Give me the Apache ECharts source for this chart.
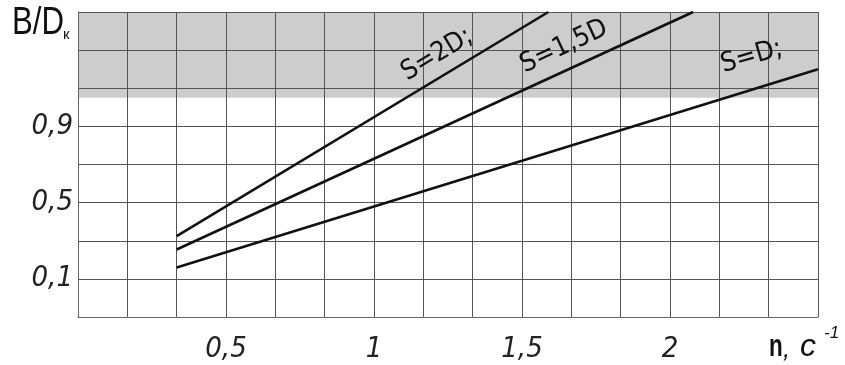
<!DOCTYPE html>
<html><head><meta charset="utf-8">
<script src="https://cdn.jsdelivr.net/npm/echarts@6/dist/echarts.min.js"></script>
<style>html,body{margin:0;padding:0;background:#fff}#c{width:845px;height:365px}</style>
</head><body><div id="c"></div>
<script>
// ---- data ----
const seriesNames = ['S=2D;', 'S=1,5D', 'S=D;'];
const nS2D  = [0.3333, 1.589];
const vS2D  = [0.324, 1.5];
const nS15D = [0.3333, 2.078];
const vS15D = [0.254, 1.5];
const nSD   = [0.3333, 2.5];
const vSD   = [0.160, 1.200];
const xTickValues = [0.5, 1, 1.5, 2];
const xTickLabels = ['0,5', '1', '1,5', '2'];
const yMin = -0.1, yMax = 1.5, yStep = 0.2;       // grid rows of 0.2, starting at -0.1
const yTickValues = [0.1, 0.5, 0.9];
const yTickLabels = ['0,1', '0,5', '0,9'];
const shadedBand = [1.05, 1.5];
const labelAnchorN = [1.213, 1.642, 2.276];
const labelAnchorV = [1.276, 1.318, 1.265];
const labelAngles = [31, 25, 16];

const numFont = '"Liberation Sans Narrow", "DejaVu Sans Condensed", sans-serif';

function pairs(xs, ys) { return xs.map((x, i) => [x, ys[i]]); }
function pick(vals, labels, v) {
  for (let i = 0; i < vals.length; i++) if (Math.abs(vals[i] - v) < 1e-6) return labels[i];
  return '';
}
const rows = Math.round((yMax - yMin) / yStep);

const chart = echarts.init(document.getElementById('c'), null, {renderer: 'canvas'});
const lineStyle = {color: '#111', width: 2.6};
const option = {
  animation: false,
  grid: {left: 78, top: 12, right: 27, bottom: 48, containLabel: false},
  xAxis: {
    type: 'value', min: 0, max: 2.5, interval: 1/6, z: 2,
    axisLine: {show: true, onZero: false, lineStyle: {color: '#666', width: 1}},
    axisTick: {show: false},
    splitLine: {show: true, lineStyle: {color: '#555', width: 1}},
    axisLabel: {
      show: true, margin: 18, color: '#222',
      fontFamily: numFont, fontStyle: 'italic', fontSize: 29,
      formatter: v => pick(xTickValues, xTickLabels, v)
    }
  },
  yAxis: [
    { // data scale
      type: 'value', min: yMin, max: yMax, show: false,
      axisLine: {onZero: false},
      splitLine: {show: false}
    },
    { // grid rows (same extent, expressed in row units)
      type: 'value', min: 0, max: rows, interval: 1, position: 'left', z: 2,
      axisLine: {show: true, onZero: false, lineStyle: {color: '#666', width: 1}},
      axisTick: {show: false},
      splitLine: {show: true, lineStyle: {color: '#555', width: 1}},
      axisLabel: {
        show: true, margin: 5, color: '#222',
        fontFamily: numFont, fontStyle: 'italic', fontSize: 29,
        padding: [0, 0, 8, 0],
        formatter: k => pick(yTickValues, yTickLabels, yMin + k * yStep)
      }
    }
  ],
  series: [
    {
      type: 'line', data: [], z: 0, silent: true, yAxisIndex: 0,
      markArea: {
        silent: true, z: 0,
        itemStyle: {color: '#cdcdcd'},
        data: [[{yAxis: shadedBand[0]}, {yAxis: shadedBand[1]}]]
      }
    },
    {name: seriesNames[0], type: 'line', yAxisIndex: 0, data: pairs(nS2D, vS2D), symbol: 'none', lineStyle, z: 3},
    {name: seriesNames[1], type: 'line', yAxisIndex: 0, data: pairs(nS15D, vS15D), symbol: 'none', lineStyle, z: 3},
    {name: seriesNames[2], type: 'line', yAxisIndex: 0, data: pairs(nSD, vSD), symbol: 'none', lineStyle, z: 3}
  ]
};
chart.setOption(option);

const labelFont = '27px "Liberation Sans Narrow", "DejaVu Sans Condensed", sans-serif';
const g = seriesNames.map((name, i) => {
  const p = chart.convertToPixel({xAxisIndex: 0, yAxisIndex: 0}, [labelAnchorN[i], labelAnchorV[i]]);
  return {
    type: 'text', x: p[0], y: p[1], rotation: labelAngles[i] * Math.PI / 180, z: 10,
    style: {text: name, font: labelFont, fill: '#111', textAlign: 'center', textVerticalAlign: 'middle'}
  };
});
g.push({type: 'text', x: 12, y: 43, z: 10, scaleX: 0.8,
  style: {text: 'B/D', font: '39px "Liberation Sans Narrow", sans-serif', fill: '#111', textAlign: 'left', textVerticalAlign: 'bottom'}});
g.push({type: 'text', x: 63, y: 42, z: 10,
  style: {text: 'к', font: '15px "Liberation Sans Narrow", sans-serif', fill: '#111', textAlign: 'left', textVerticalAlign: 'bottom'}});
g.push({type: 'text', x: 769, y: 363, z: 10, scaleX: 0.7,
  style: {text: 'n', font: 'bold 32px "Liberation Sans Narrow", sans-serif', fill: '#111', textAlign: 'left', textVerticalAlign: 'bottom'}});
g.push({type: 'text', x: 783, y: 363, z: 10,
  style: {text: ',', font: 'italic 26px "Liberation Sans Narrow", sans-serif', fill: '#111', textAlign: 'left', textVerticalAlign: 'bottom'}});
g.push({type: 'text', x: 800, y: 363, z: 10,
  style: {text: 'с', font: 'italic 32px "Liberation Sans Narrow", sans-serif', fill: '#111', textAlign: 'left', textVerticalAlign: 'bottom'}});
g.push({type: 'text', x: 824, y: 342, z: 10,
  style: {text: '-1', font: 'italic 17px "Liberation Sans Narrow", sans-serif', fill: '#111', textAlign: 'left', textVerticalAlign: 'bottom'}});
chart.setOption({graphic: {elements: g}});
</script>
</body></html>
